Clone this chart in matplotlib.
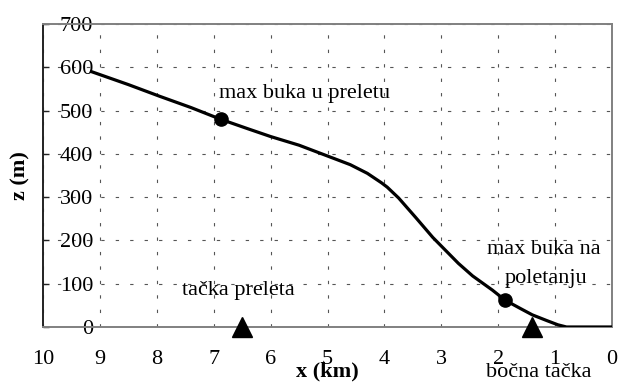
import matplotlib
matplotlib.use("Agg")
import matplotlib.pyplot as plt

plt.rcParams['font.family'] = ['Liberation Serif', 'DejaVu Serif']

# Flight path data (x in km from start of roll, z in m)
x_km = [9.15, 8.5, 7.95, 7.4, 6.88, 6.4, 6.0, 5.5, 5.0, 4.6, 4.3, 4.05, 3.95,
        3.75, 3.45, 3.15, 2.7, 2.45, 2.1, 1.88, 1.6, 1.4, 1.15, 0.95, 0.8, 0.0]
z_m = [590, 560, 533, 507, 480, 458, 440, 420, 395, 375, 355, 333, 323,
       298, 253, 207, 147, 118, 85, 62, 42, 28, 15, 5, 0, 0]

# Max noise points
max_x = [6.88, 1.88]
max_z = [480, 62]

# Measurement points on ground
meas_x = [6.5, 1.4]
meas_z = [0, 0]

x_ticks = [10, 9, 8, 7, 6, 5, 4, 3, 2, 1, 0]
y_ticks = [0, 100, 200, 300, 400, 500, 600, 700]

FS = 16

fig = plt.figure(figsize=(6.18, 3.89), dpi=100)
ax = fig.add_axes([0.0696, 0.1594, 0.9207, 0.7789])
ax.set_xlim(10, 0)
ax.set_ylim(0, 700)

ax.set_xticks(x_ticks)
ax.set_xticklabels([str(t) for t in x_ticks], fontsize=FS)
ax.set_yticks(y_ticks)
ax.set_yticklabels([str(t) for t in y_ticks], fontsize=FS)

ax.tick_params(axis='x', length=0, pad=16.5)
ax.tick_params(axis='y', direction='in', length=4.5, width=1.0, color='#222222', pad=-36)

ax.grid(True, color='#555555', linewidth=0.8, linestyle=(0, (3, 10)))
ax.set_axisbelow(True)

for s in ['top', 'right', 'bottom']:
    ax.spines[s].set_color('#808080')
    ax.spines[s].set_linewidth(1.4)
ax.spines['left'].set_color('#222222')
ax.spines['left'].set_linewidth(1.4)

ax.plot(x_km, z_m, color='black', linewidth=2.3, zorder=3)
ax.plot(max_x, max_z, 'o', color='black', markersize=9.5, zorder=4)
ax.plot(meas_x, meas_z, '^', color='black', markersize=15, clip_on=False, zorder=5)

ax.text(5.40, 540, 'max buka u preletu', fontsize=FS, ha='center', va='center')
ax.text(6.57, 85, 'tačka preleta', fontsize=FS, ha='center', va='center')
ax.text(1.19, 178, 'max buka na', fontsize=FS, ha='center', va='center')
ax.text(1.16, 113, 'poletanju', fontsize=FS, ha='center', va='center')
ax.text(1.28, -106, 'bočna tačka', fontsize=FS, ha='center', va='center', clip_on=False)

ax.set_xlabel('x (km)', fontsize=FS, fontweight='bold', labelpad=-5)
ax.set_ylabel('z (m)', fontsize=FS, fontweight='bold', labelpad=9)

fig.savefig('out.png', dpi=100)
